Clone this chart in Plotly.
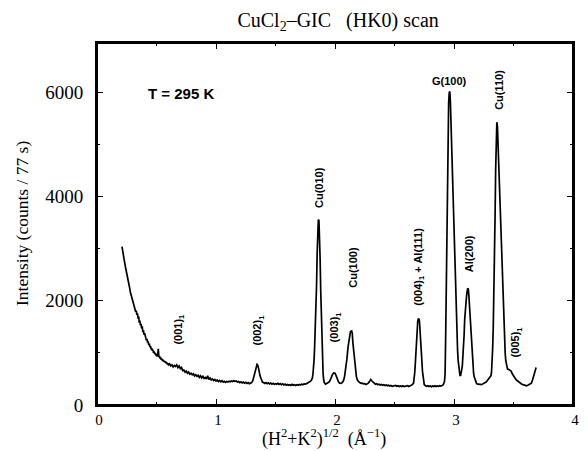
import plotly.graph_objects as go

# Scattering vector (Å^-1) and intensity (counts / 77 s)
q = [
    0.21, 0.215, 0.22, 0.225, 0.23, 0.235, 0.24, 0.245, 0.25, 0.255, 0.26, 0.265, 0.27, 0.275, 0.28, 0.285,
    0.29, 0.295, 0.30, 0.305, 0.31, 0.315, 0.32, 0.325, 0.33, 0.335, 0.34, 0.345, 0.35, 0.355, 0.36, 0.365,
    0.37, 0.375, 0.38, 0.385, 0.39, 0.395, 0.40, 0.405, 0.41, 0.415, 0.42, 0.425, 0.43, 0.435, 0.44, 0.445,
    0.45, 0.455, 0.46, 0.465, 0.47, 0.475, 0.48, 0.485, 0.49, 0.495, 0.50, 0.505, 0.51, 0.515, 0.52, 0.525,
    0.53, 0.535, 0.54, 0.545, 0.55, 0.555, 0.56, 0.565, 0.57, 0.575, 0.58, 0.585, 0.59, 0.595, 0.60,
    0.61, 0.62, 0.63, 0.64, 0.65, 0.66, 0.67, 0.68, 0.69, 0.70, 0.71, 0.72, 0.73, 0.74, 0.75, 0.76, 0.77,
    0.78, 0.79, 0.80, 0.81, 0.82, 0.83, 0.84, 0.85, 0.86, 0.87, 0.88, 0.89, 0.90, 0.91, 0.92, 0.93, 0.94,
    0.95, 0.96, 0.97, 0.98, 0.99, 1.00, 1.01, 1.02, 1.03, 1.04, 1.05, 1.06, 1.07, 1.08, 1.09, 1.10, 1.11,
    1.12, 1.13, 1.14, 1.15, 1.16, 1.17, 1.18, 1.19, 1.20, 1.21, 1.22, 1.23, 1.24, 1.25, 1.26, 1.27, 1.28,
    1.29, 1.30, 1.31, 1.32, 1.33, 1.34, 1.345, 1.35, 1.355, 1.36, 1.37, 1.38, 1.39, 1.40, 1.41, 1.42, 1.43,
    1.44, 1.45, 1.46, 1.47, 1.48, 1.49, 1.50, 1.51, 1.52, 1.53, 1.54, 1.55, 1.56, 1.57, 1.58, 1.59, 1.60,
    1.61, 1.62, 1.63, 1.64, 1.65, 1.66, 1.67, 1.68, 1.69, 1.70, 1.71, 1.72, 1.73, 1.74, 1.75, 1.76, 1.77,
    1.78, 1.79, 1.80, 1.81, 1.815, 1.82, 1.825, 1.83, 1.835, 1.84, 1.845, 1.85, 1.855, 1.86, 1.865, 1.87,
    1.875, 1.88, 1.885, 1.89, 1.895, 1.90, 1.905, 1.91, 1.92, 1.93, 1.94, 1.95, 1.96, 1.97, 1.98, 1.99,
    2.00, 2.01, 2.02, 2.03, 2.04, 2.05, 2.06, 2.07, 2.08, 2.09, 2.10, 2.11, 2.12, 2.13, 2.14, 2.145, 2.15,
    2.16, 2.17, 2.18, 2.19, 2.20, 2.21, 2.22, 2.23, 2.24, 2.25, 2.26, 2.27, 2.28, 2.29, 2.30, 2.31, 2.32,
    2.33, 2.34, 2.35, 2.36, 2.37, 2.38, 2.39, 2.40, 2.41, 2.42, 2.43, 2.44, 2.45, 2.46, 2.47, 2.48, 2.49,
    2.50, 2.51, 2.52, 2.53, 2.54, 2.55, 2.56, 2.57, 2.58, 2.59, 2.60, 2.61, 2.62, 2.63, 2.64, 2.65, 2.66,
    2.665, 2.67, 2.675, 2.68, 2.685, 2.69, 2.695, 2.70, 2.705, 2.71, 2.715, 2.72, 2.725, 2.73, 2.735, 2.74,
    2.745, 2.75, 2.76, 2.77, 2.78, 2.79, 2.80, 2.81, 2.82, 2.83, 2.84, 2.85, 2.86, 2.87, 2.88, 2.89, 2.90,
    2.91, 2.92, 2.925, 2.93, 2.935, 2.94, 2.945, 2.95, 2.955, 2.96, 2.965, 2.97, 2.975, 2.98, 2.985, 2.99,
    2.995, 3.00, 3.005, 3.01, 3.015, 3.02, 3.025, 3.03, 3.035, 3.04, 3.045, 3.05, 3.055, 3.06, 3.065, 3.07,
    3.075, 3.08, 3.085, 3.09, 3.095, 3.10, 3.105, 3.11, 3.115, 3.12, 3.125, 3.13, 3.135, 3.14, 3.145, 3.15,
    3.155, 3.16, 3.165, 3.17, 3.175, 3.18, 3.19, 3.20, 3.21, 3.22, 3.23, 3.24, 3.25, 3.26, 3.27, 3.28, 3.29,
    3.30, 3.31, 3.315, 3.32, 3.325, 3.33, 3.335, 3.34, 3.345, 3.35, 3.355, 3.36, 3.365, 3.37, 3.375, 3.38,
    3.385, 3.39, 3.395, 3.40, 3.405, 3.41, 3.415, 3.42, 3.425, 3.43, 3.435, 3.44, 3.445, 3.45, 3.46, 3.47,
    3.48, 3.49, 3.50, 3.51, 3.52, 3.53, 3.54, 3.55, 3.56, 3.57, 3.58, 3.59, 3.60, 3.61, 3.62, 3.63, 3.64,
    3.65, 3.66, 3.67, 3.68, 3.69, 3.70,
]
counts = [
    3040, 2950, 2900, 2820, 2770, 2700, 2640, 2590, 2520, 2470, 2400, 2360, 2290, 2240, 2170, 2130,
    2080, 2040, 1990, 1950, 1920, 1880, 1840, 1790, 1810, 1730, 1760, 1660, 1700, 1580, 1620, 1530,
    1560, 1470, 1510, 1400, 1440, 1350, 1380, 1300, 1320, 1240, 1270, 1200, 1220, 1150, 1180, 1110,
    1130, 1070, 1090, 1040, 1060, 1000, 1030, 980, 1000, 950, 980, 930, 960, 1080, 920, 940,
    890, 910, 870, 890, 850, 870, 830, 850, 820, 840, 800, 820, 780, 800, 770,
    790, 750, 770, 730, 760, 740, 770, 720, 750, 700, 720, 660, 670, 630, 650, 610, 630,
    590, 610, 580, 600, 560, 580, 550, 570, 530, 560, 520, 550, 510, 530, 500, 560, 490,
    520, 480, 500, 470, 490, 460, 480, 450, 470, 445, 465, 440, 455, 435, 450, 440, 455,
    445, 460, 450, 465, 455, 460, 440, 450, 430, 445, 425, 440, 420, 435, 415, 430, 410,
    425, 430, 470, 560, 670, 750, 780, 770, 740, 680, 560, 480, 440, 430, 415, 430, 410,
    425, 405, 420, 400, 415, 395, 410, 400, 415, 395, 410, 390, 405, 385, 400, 380, 395,
    380, 390, 375, 395, 380, 390, 375, 390, 380, 395, 385, 400, 390, 405, 400, 410, 420,
    440, 450, 470, 520, 600, 720, 900, 1200, 1500, 1750, 2300, 2900, 3350, 3560, 3540, 3300,
    2800, 2200, 1700, 1200, 850, 600, 480, 430, 400, 410, 420, 440, 480, 540, 590,
    615, 610, 560, 490, 440, 420, 415, 430, 460, 540, 680, 880, 1120, 1320, 1410, 1420, 1380,
    1200, 950, 700, 540, 470, 440, 425, 415, 420, 405, 410, 395, 405, 420, 450, 490, 460,
    430, 420, 400, 410, 390, 400, 385, 395, 380, 390, 375, 385, 370, 380, 365, 375, 360, 370,
    365, 375, 360, 370, 355, 365, 355, 370, 355, 365, 360, 370, 355, 365, 370, 390, 420,
    500, 620, 800, 1050, 1300, 1480, 1600, 1650, 1660, 1600, 1450, 1250, 1050, 850, 650, 500,
    430, 390, 370, 360, 370, 355, 365, 350, 365, 355, 370, 355, 365, 360, 370, 365, 375,
    390, 450, 600, 1300, 2300, 3600, 4600, 5300, 5800, 6000, 6020, 5800, 5400, 4900, 4500, 4200,
    3700, 3200, 2700, 2400, 2000, 1600, 1300, 1050, 850, 700, 620, 570, 560, 600, 680, 750,
    900, 1050, 1350, 1650, 1850, 1980, 2080, 2170, 2240, 2230, 2100, 1900, 1650, 1400, 1200, 1050,
    850, 700, 600, 540, 500, 450, 410, 400, 390, 395, 390, 400, 410, 420, 440, 470, 500,
    530, 560, 620, 800, 1100, 1500, 2000, 2600, 3600, 4500, 5100, 5430, 5350, 5000,
    4700, 4450, 4200, 3800, 3400, 2900, 2500, 2100, 1750, 1450, 1200, 1000, 850, 760, 720, 690, 680,
    670, 650, 600, 560, 520, 490, 470, 450, 430, 410, 400, 390, 380, 375, 370, 380, 390,
    400, 420, 480, 560, 650, 720,
]

# Peak labels: text, q position, intensity position (rotated 90°)
label_text = ["(001)<sub>1</sub>", "(002)<sub>1</sub>", "Cu(010)", "(003)<sub>1</sub>", "Cu(100)",
              "(004)<sub>1</sub> + Al(111)", "Al(200)", "Cu(110)", "(005)<sub>1</sub>"]
label_q = [0.69, 1.353, 1.865, 2.003, 2.149, 2.703, 3.123, 3.372, 3.524]
label_y = [1450, 1430, 4185, 1497, 2649, 2649, 2908, 6056, 1209]

fig = go.Figure()
fig.add_trace(go.Scatter(x=q, y=counts, mode="lines",
                         line=dict(color="black", width=1.7), showlegend=False))

serif = "Liberation Serif"
sans = "Liberation Sans"

for t, xq, yv in zip(label_text, label_q, label_y):
    fig.add_annotation(x=xq, y=yv, text="<b>" + t + "</b>", textangle=-90, showarrow=False,
                       font=dict(family=sans, size=11, color="black"))

fig.add_annotation(x=2.96, y=6215, text="<b>G(100)</b>", showarrow=False,
                   font=dict(family=sans, size=11, color="black"))
fig.add_annotation(x=0.415, y=5980, text="<b>T = 295 K</b>", showarrow=False, xanchor="left",
                   font=dict(family=sans, size=15, color="black"))

# axis titles
fig.add_annotation(xref="paper", yref="paper", x=0.477, y=0, yshift=-33, yanchor="middle",
                   xanchor="center",
                   text="(H<sup>2</sup>+K<sup>2</sup>)<sup>1/2</sup>  (Å<sup>−1</sup>)",
                   showarrow=False, font=dict(family=serif, size=18, color="black"))
fig.add_annotation(xref="paper", yref="paper", x=0, xshift=-75, y=0.5, textangle=-90,
                   xanchor="center", yanchor="middle",
                   text="Intensity (counts / 77 s)", showarrow=False,
                   font=dict(family=serif, size=17.5, color="black"))

# plot frame
fig.add_shape(type="rect", xref="paper", yref="paper", x0=0, y0=0, x1=1, y1=1,
              line=dict(color="black", width=2), fillcolor="rgba(0,0,0,0)", layer="above")

fig.update_layout(
    width=588, height=451,
    margin=dict(l=97, r=9, t=43, b=46),
    paper_bgcolor="white", plot_bgcolor="white",
    title=dict(text="CuCl<sub>2</sub>–GIC   (HK0) scan", x=0.575, xanchor="center", y=0.955,
               yanchor="middle", font=dict(family=serif, size=20, color="black")),
    xaxis=dict(range=[0, 4], tickvals=[0, 1, 2, 3, 4], ticks="inside", ticklen=6,
               tickcolor="black", showline=True, linecolor="black", linewidth=2,
               mirror="ticks", showgrid=False, zeroline=False,
               minor=dict(dtick=0.5, ticks="inside", ticklen=3, tickcolor="black"),
               tickfont=dict(family=serif, size=15, color="black"), ticklabelshift=2),
    yaxis=dict(range=[0, 6950], tickvals=[0, 2000, 4000, 6000], ticks="inside", ticklen=6,
               tickcolor="black", showline=True, linecolor="black", linewidth=2,
               mirror="ticks", showgrid=False, zeroline=False,
               minor=dict(dtick=1000, ticks="inside", ticklen=3, tickcolor="black"),
               tickfont=dict(family=serif, size=19, color="black"), ticklabelstandoff=8),
)

fig.write_html("out.html")
